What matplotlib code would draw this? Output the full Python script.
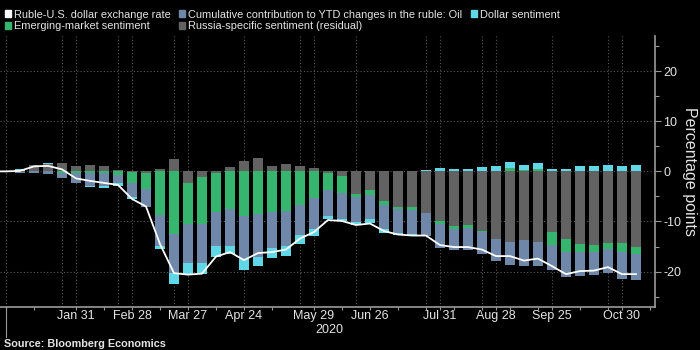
import numpy as np
import matplotlib
matplotlib.use("Agg")
import matplotlib.pyplot as plt
from matplotlib.patches import Patch

plt.rcParams['font.family'] = ['Liberation Sans', 'DejaVu Sans']
plt.rcParams['axes.unicode_minus'] = False

# weekly observations, Fridays from Jan 3 2020 (index 0) to Nov 6 2020 (index 44)
weeks = np.arange(45)

russia = [-0.2, 1.2, 1.53, 1.67, 1.07, 1.2, 1.0, 0.2, -0.2, -0.4,
          0.4, 2.4, -2.27, -1.07, -0.4, 0.87, 2.07, 2.6, 1.07, 1.47,
          1.07, 0.67, -0.33, -0.87, -4.53, -3.73, -6.0, -7.07, -7.07, -8.27,
          -9.93, -10.8, -10.73, -11.87, -13.47, -14.13, -13.73, -14.0, -12.13, -13.4,
          -14.53, -14.67, -14.2, -14.2, -15.07]
em = [0, 0, 0, -0.4, -0.4, -0.4, -0.4, -0.73, -2.2, -3.2,
      -8.8, -12.53, -8.13, -9.33, -7.67, -7.6, -8.93, -8.53, -8.07, -7.87,
      -6.67, -5.27, -3.4, -3.4, -0.53, -0.93, -0.67, -0.47, -0.67, 0,
      -0.53, -0.6, -0.53, -0.2, 0.07, 0.6, 0.27, 0.5, -2.6, -2.67,
      -1.53, -1.4, -1.33, -1.87, -1.33]
oil = [-0.2, -0.27, -0.47, -0.87, -1.87, -2.53, -2.53, -1.67, -2.8, -3.47,
       -6.13, -7.73, -7.87, -7.87, -6.87, -7.33, -8.47, -8.53, -7.27, -7.07,
       -6.07, -6.27, -5.2, -5.33, -5.07, -4.87, -4.8, -4.67, -4.67, -4.53,
       -4.73, -4.3, -4.33, -4.47, -4.47, -4.53, -5.2, -4.93, -5.0, -5.0,
       -4.8, -4.67, -4.73, -5.47, -5.27]
dollar = [0.4, 0.1, 0.13, 0, -0.13, -0.2, -0.4, -0.53, -0.4, -0.1,
          -0.53, -2.27, -2.13, -2.13, -2.13, -1.6, -2.33, -1.73, -1.93, -1.93,
          -1.73, -1.27, -0.67, -0.33, -0.53, -0.73, -0.8, -0.47, -0.4, 0.2,
          0.6, 0.53, 0.53, 0.87, 0.93, 1.2, 1.0, 1.17, 0.47, 0.53,
          1.0, 1.0, 1.2, 1.07, 1.2]

# exchange rate line starts two weeks before the first bar
line_weeks = np.arange(-2, 45)
ruble = [0, 0, 0.1, 1.0, 1.1, 0.4, -1.4, -1.9, -2.3, -2.7, -5.5, -7.0,
         -14.5, -20.3, -20.6, -20.4, -17.0, -16.1, -17.7, -16.3, -16.1, -15.6,
         -13.4, -12.1, -9.7, -9.9, -10.7, -10.4, -11.9, -12.6, -12.8, -12.8,
         -14.7, -15.1, -15.1, -15.6, -16.9, -16.9, -17.8, -17.4, -18.9, -20.5,
         -19.9, -19.8, -19.1, -20.5, -20.5]

tick_weeks = [4, 8, 12, 16, 21, 25, 30, 34, 38, 43]
tick_labels = ['Jan 31', 'Feb 28', 'Mar 27', 'Apr 24', 'May 29', 'Jun 26',
               'Jul 31', 'Aug 28', 'Sep 25', 'Oct 30']
minor_weeks = [-1, 1, 6, 10, 14, 18, 23, 27, 29, 31, 33, 35, 37, 40, 42, 45]
grid_weeks = [-1, 3, 4, 7, 8, 11, 12, 16, 20, 21, 24, 29, 30, 33, 34, 38, 42, 43]

c_oil = '#6f87a8'
c_dollar = '#5fd7e6'
c_em = '#36b56e'
c_russia = '#626262'
txt = '#e4e4e4'
axcol = '#9a9a9a'

fig = plt.figure(figsize=(7, 3.5), dpi=100, facecolor='black')
ax = fig.add_axes([0, 0.1237, 0.9357, 0.7733])
ax.set_facecolor('black')

for w in grid_weeks:
    ax.axvline(w, color='#5a5a5a', lw=0.8, ls=(0, (1, 2)), zorder=0)
for yv in [-20, -10, 0, 10, 20]:
    ax.axhline(yv, color='#5a5a5a', lw=0.8, ls=(0, (1, 2)), zorder=0)

# diverging stack: positives build up from zero, negatives build down
pos_base = np.zeros(len(weeks))
neg_base = np.zeros(len(weeks))
for vals, col in [(russia, c_russia), (em, c_em), (oil, c_oil), (dollar, c_dollar)]:
    v = np.array(vals, dtype=float)
    base = np.where(v >= 0, pos_base, neg_base)
    ax.bar(weeks, v, bottom=base, width=0.76, color=col, zorder=2)
    pos_base += np.clip(v, 0, None)
    neg_base += np.clip(v, None, 0)

ax.plot(line_weeks, ruble, color='white', lw=1.3, zorder=3)

ax.set_xlim(-1.43, 45.36)
ax.set_ylim(-27, 27)

ax.yaxis.tick_right()
ax.yaxis.set_label_position('right')
ax.set_yticks([-20, -10, 0, 10, 20])
ax.set_yticks([-25, -15, -5, 5, 15, 25], minor=True)
ax.set_xticks(tick_weeks)
ax.set_xticklabels(tick_labels)
ax.set_xticks(minor_weeks, minor=True)

ax.tick_params(axis='both', which='both', colors=axcol, labelcolor=txt,
               labelsize=9, width=0.8)
ax.tick_params(axis='y', which='major', length=4, pad=2)
ax.tick_params(axis='y', which='minor', length=3)
ax.tick_params(axis='x', which='both', length=2.5, pad=0)

for s in ['top', 'left']:
    ax.spines[s].set_visible(False)
for s in ['bottom', 'right']:
    ax.spines[s].set_color(axcol)
    ax.spines[s].set_linewidth(1.2)

ax.set_ylabel('Percentage points', rotation=270, color=txt, fontsize=11.5,
              labelpad=11)

# year separator and year label under the axis
ax.axvline(-1, ymin=-0.112, ymax=0, color=axcol, lw=0.8, clip_on=False)
fig.text(329.5 / 700, 1 - 330 / 350, '2020', ha='center', va='center',
         color=txt, fontsize=9)

fig.text(4 / 700, 1 - 344 / 350, 'Source: Bloomberg Economics', ha='left',
         va='center', color=txt, fontsize=7.8, fontweight='bold')

handles = [Patch(color='white'), Patch(color=c_em), Patch(color=c_oil),
           Patch(color=c_russia), Patch(color=c_dollar)]
labels = ['Ruble-U.S. dollar exchange rate', 'Emerging-market sentiment',
          'Cumulative contribution to YTD changes in the ruble: Oil',
          'Russia-specific sentiment (residual)', 'Dollar sentiment']
fig.legend(handles, labels, ncol=3, loc='upper left',
           bbox_to_anchor=(5 / 700, 1 - 9.5 / 350), frameon=False, fontsize=7.9,
           handlelength=0.55, handleheight=0.55, handletextpad=0.25,
           columnspacing=0.8, labelspacing=0.15, borderpad=0,
           borderaxespad=0, labelcolor=txt)

fig.savefig('out.png', dpi=100, facecolor='black')
